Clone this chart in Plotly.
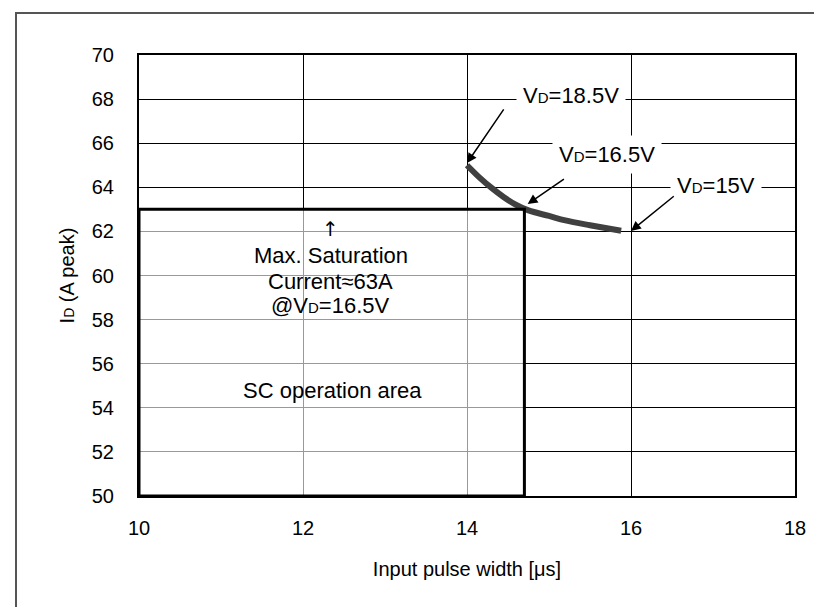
import plotly.graph_objects as go

# ---- data ----
curve_x = [14.0, 14.15, 14.3, 14.45, 14.6, 14.75, 15.0, 15.2, 15.5, 15.88]
curve_y = [65.0, 64.45, 63.97, 63.55, 63.2, 62.95, 62.7, 62.5, 62.28, 62.03]

x_ticks = [10, 12, 14, 16, 18]
y_ticks = [50, 52, 54, 56, 58, 60, 62, 64, 66, 68, 70]

sc_area_x = [10, 14.7]
sc_area_y = [50, 63]

SUB_D = "V<span style='font-size:15px'>D</span>"
label_texts = [SUB_D + "=18.5V", SUB_D + "=16.5V", SUB_D + "=15V"]
label_x = [15.27, 15.71, 17.04]
label_y = [68.15, 65.5, 64.1]
arrow_head_x = [14.0, 14.74, 16.0]
arrow_head_y = [65.1, 63.24, 62.02]
arrow_tail_x = [14.46, 15.2, 16.54]
arrow_tail_y = [67.6, 64.42, 63.65]

note_lines = ["↑", "Max. Saturation", "Current≈63A", "@" + SUB_D + "=16.5V"]
note_y = [62.1, 60.9, 59.75, 58.62]
note_x = 12.34
area_text = "SC operation area"

FONT = "Liberation Sans, Arial, sans-serif"
FS_AX = 20
FS_AN = 22

fig = go.Figure()
fig.add_trace(go.Scatter(x=curve_x, y=curve_y, mode="lines",
                         line=dict(color="#404040", width=6, shape="spline"),
                         hoverinfo="skip", showlegend=False))

shapes = [
    dict(type="rect", xref="x", yref="y", x0=sc_area_x[0], x1=sc_area_x[1],
         y0=sc_area_y[0], y1=sc_area_y[1], fillcolor="rgba(255,255,255,0.6)",
         line=dict(color="black", width=3), layer="above"),
    dict(type="rect", xref="paper", yref="paper", x0=-0.1875, x1=1.0515,
         y0=-0.3, y1=1.095, line=dict(color="#555555", width=2),
         fillcolor="rgba(0,0,0,0)", layer="below"),
]

annotations = []
for t, lx, ly in zip(label_texts, label_x, label_y):
    annotations.append(dict(x=lx, y=ly, xref="x", yref="y", text=t, showarrow=False,
                            font=dict(family=FONT, size=FS_AN, color="black"),
                            bgcolor="white", borderpad=6))
for hx, hy, tx, ty in zip(arrow_head_x, arrow_head_y, arrow_tail_x, arrow_tail_y):
    annotations.append(dict(x=hx, y=hy, ax=tx, ay=ty, xref="x", yref="y",
                            axref="x", ayref="y", text="", showarrow=True,
                            arrowhead=2, arrowsize=1.3, arrowwidth=1.5,
                            arrowcolor="black", standoff=0, startstandoff=0))
for i, (t, ny) in enumerate(zip(note_lines, note_y)):
    size = 20 if i == 0 else FS_AN
    annotations.append(dict(x=note_x, y=ny, xref="x", yref="y", text=t,
                            showarrow=False, align="center",
                            font=dict(family="DejaVu Sans, sans-serif" if i == 0 else FONT,
                                      size=size, color="black")))
annotations.append(dict(x=12.36, y=54.8, xref="x", yref="y",
                        text=area_text, showarrow=False,
                        font=dict(family=FONT, size=FS_AN, color="black")))

fig.update_layout(
    width=822, height=607,
    margin=dict(l=131, r=35, t=47, b=119, autoexpand=False),
    paper_bgcolor="white", plot_bgcolor="white",
    font=dict(family=FONT, size=FS_AX, color="black"),
    shapes=shapes, annotations=annotations, showlegend=False,
    xaxis=dict(range=[10, 18], tickvals=x_ticks, ticktext=[str(v) for v in x_ticks],
               showgrid=True, gridcolor="black", gridwidth=1, automargin=False,
               showline=True, linecolor="black", linewidth=2, mirror=True,
               zeroline=False, ticks="outside", ticklen=13, tickcolor="rgba(0,0,0,0)",
               title=dict(text="Input pulse width [μs]", standoff=24,
                          font=dict(family=FONT, size=FS_AX))),
    yaxis=dict(range=[50, 70], tickvals=y_ticks, ticktext=[str(v) for v in y_ticks],
               showgrid=True, gridcolor="black", gridwidth=1, automargin=False,
               showline=True, linecolor="black", linewidth=2, mirror=True,
               zeroline=False, ticks="outside", ticklen=19, tickcolor="rgba(0,0,0,0)",
               title=dict(text="I<span style='font-size:14px'>D</span> (A peak)", standoff=12,
                          font=dict(family=FONT, size=FS_AX))),
)

fig.write_html("out.html")
